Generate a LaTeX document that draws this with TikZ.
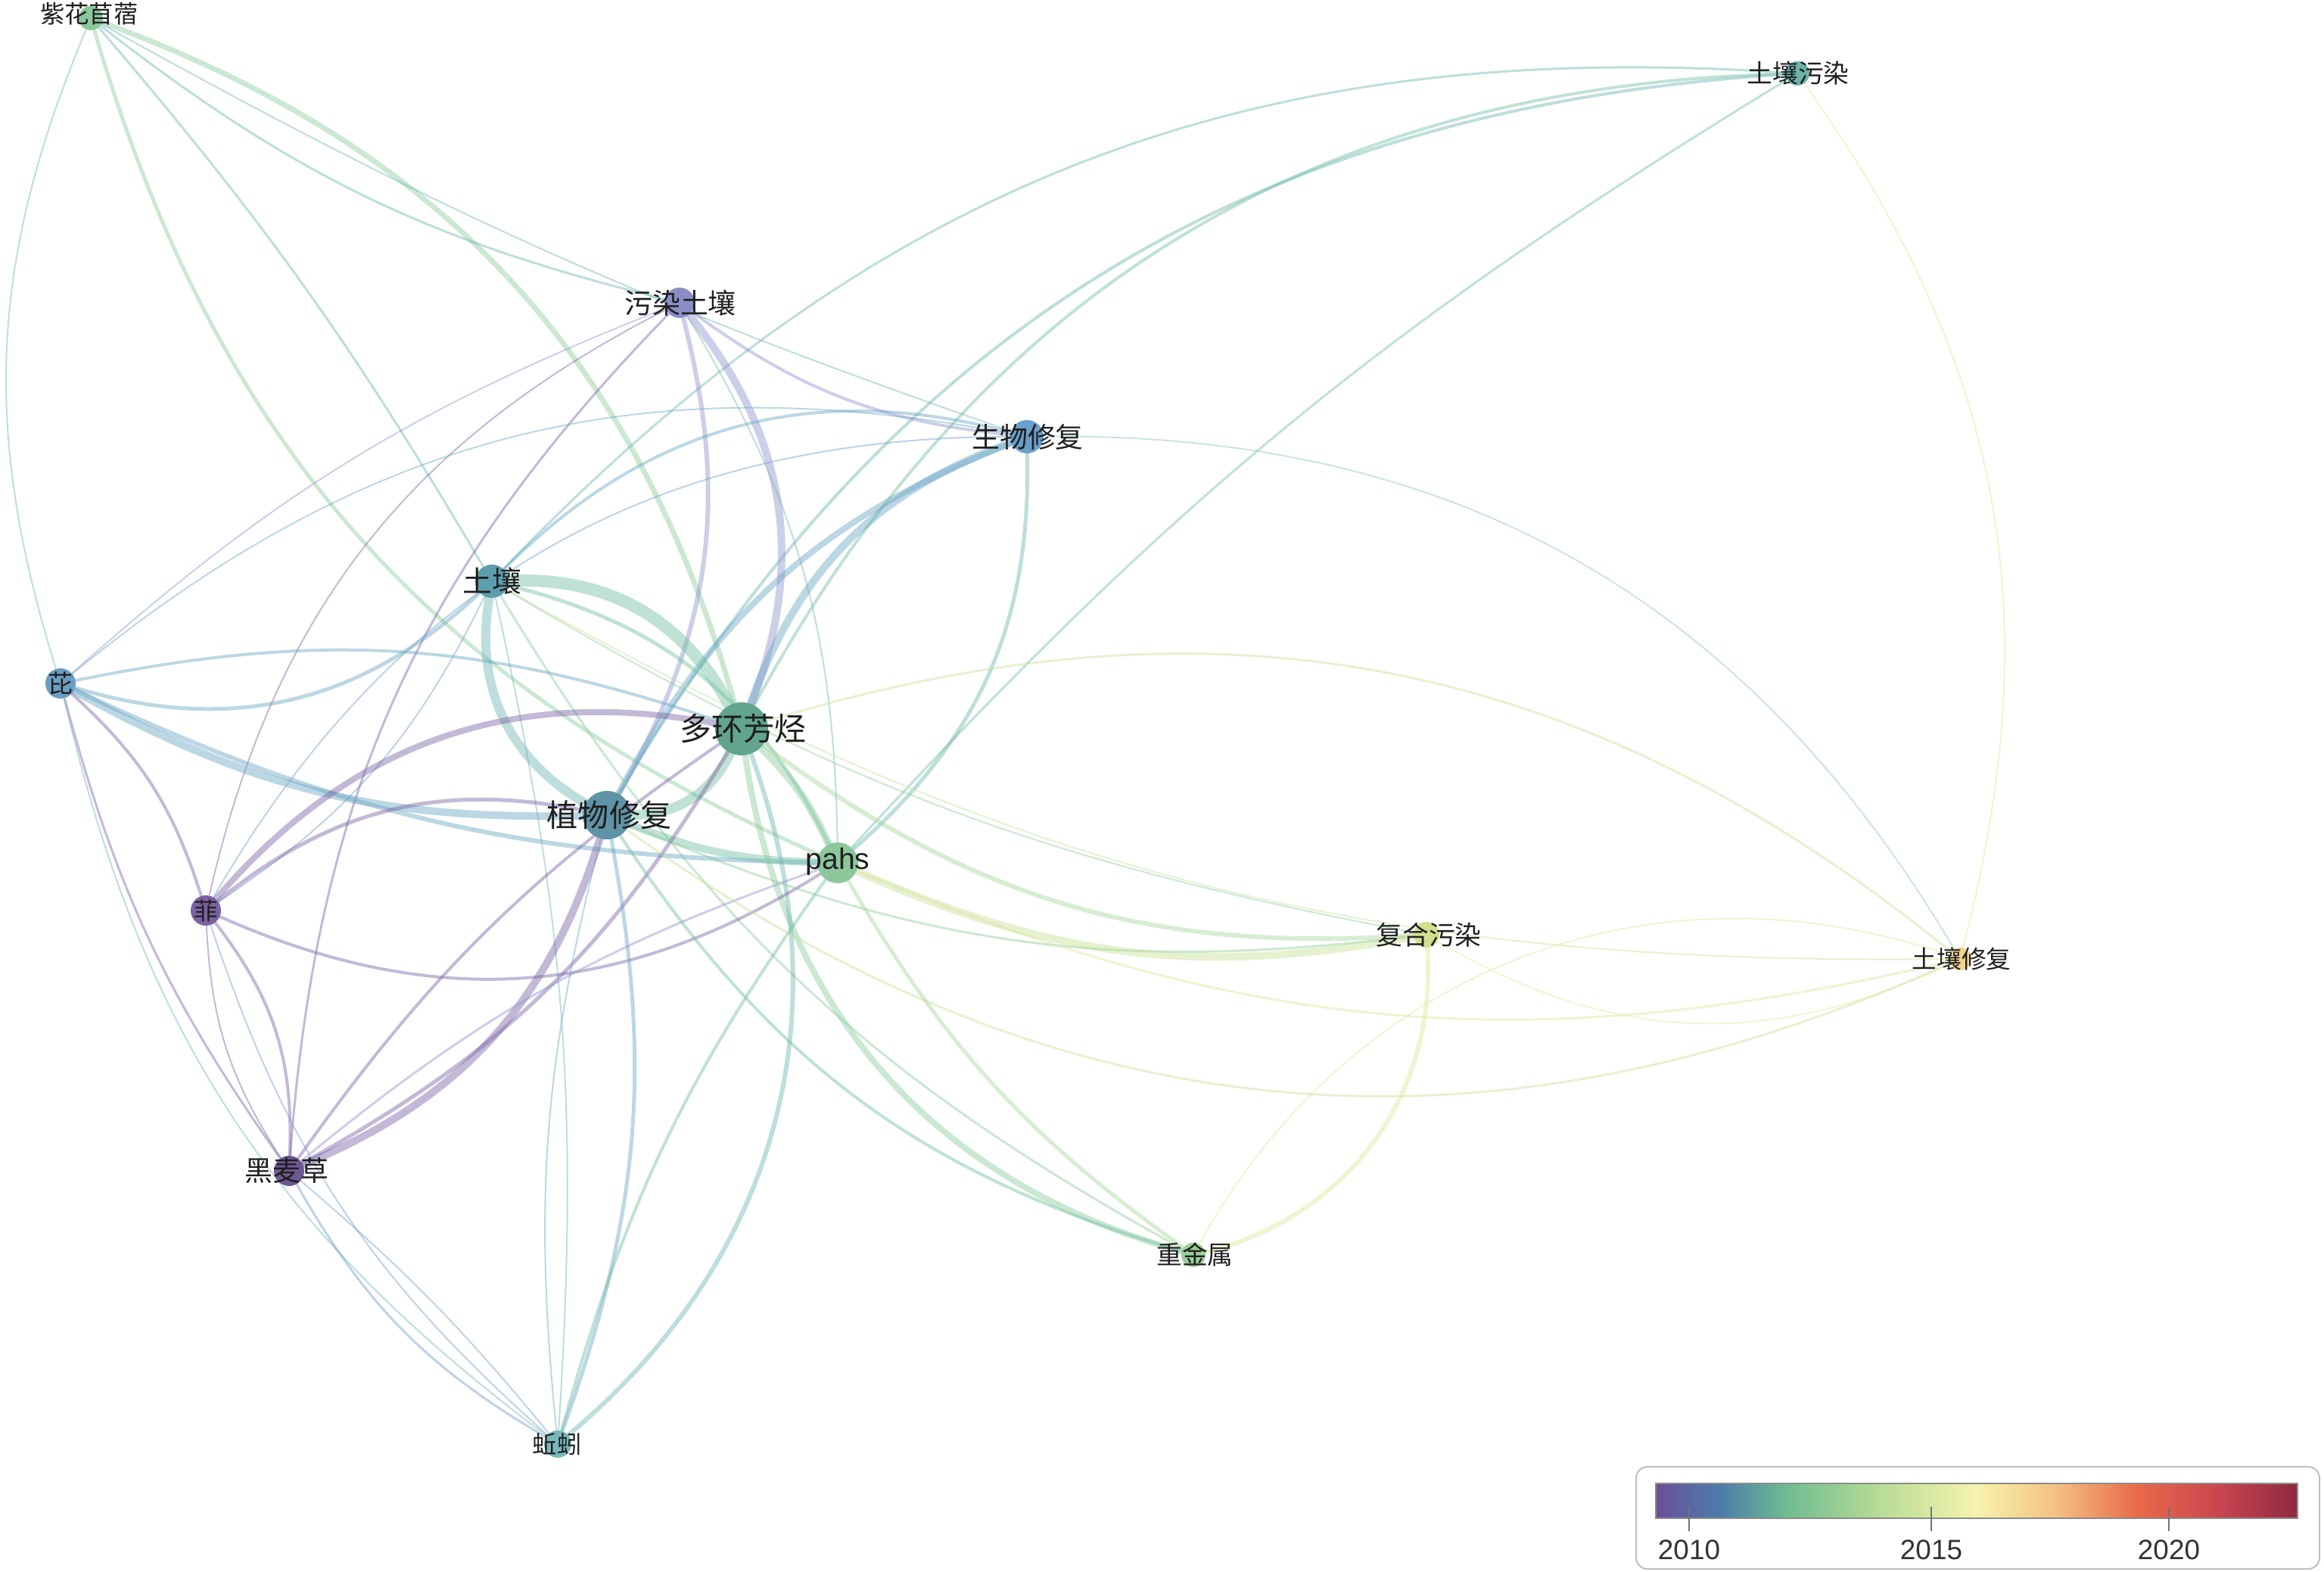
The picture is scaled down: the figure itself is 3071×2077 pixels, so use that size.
\documentclass[tikz,border=0pt]{standalone}
\usepackage{fontspec}
\newfontfamily\cjk{Noto Sans CJK SC}
\newfontfamily\lsans{Liberation Sans}
\pgfdeclarelayer{background}
\pgfsetlayers{background,main}
\definecolor{c10}{HTML}{7A64A6}
\definecolor{c105}{HTML}{8F94CC}
\definecolor{c11}{HTML}{6E9DCB}
\definecolor{c115}{HTML}{6AA6C4}
\definecolor{c12}{HTML}{6DB5B2}
\definecolor{c125}{HTML}{72BFA2}
\definecolor{c13}{HTML}{8CCB9C}
\definecolor{c135}{HTML}{A6D69A}
\definecolor{c14}{HTML}{C8E097}
\definecolor{c145}{HTML}{DDE69A}
\definecolor{c15}{HTML}{F0E3A0}
\definecolor{nA}{HTML}{8CC79C}
\definecolor{nB}{HTML}{6DB3AC}
\definecolor{nC}{HTML}{8A8EC6}
\definecolor{nD}{HTML}{6A9FCB}
\definecolor{nE}{HTML}{5E9DAB}
\definecolor{nF}{HTML}{6B9EC3}
\definecolor{nG}{HTML}{62A58E}
\definecolor{nH}{HTML}{5F93A6}
\definecolor{nI}{HTML}{8CC79C}
\definecolor{nJ}{HTML}{7A62A2}
\definecolor{nK}{HTML}{D4DF8E}
\definecolor{nL}{HTML}{EFD48F}
\definecolor{nM}{HTML}{6E5893}
\definecolor{nN}{HTML}{9CCF95}
\definecolor{nO}{HTML}{79B8BB}
\definecolor{bar1}{HTML}{6B4E98}
\definecolor{bar2}{HTML}{4C7BAA}
\definecolor{bar3}{HTML}{6DBB92}
\definecolor{bar4}{HTML}{B8DC96}
\definecolor{bar5}{HTML}{F6F3AE}
\definecolor{bar6}{HTML}{F4C383}
\definecolor{bar7}{HTML}{E96A4A}
\definecolor{bar8}{HTML}{C84450}
\definecolor{bar9}{HTML}{8E2A40}
\pgfdeclarehorizontalshading{yrbar}{100bp}{color(0bp)=(bar1); color(25bp)=(bar1); color(30bp)=(bar2); color(35bp)=(bar3); color(42.5bp)=(bar4); color(50bp)=(bar5); color(56bp)=(bar6); color(62.5bp)=(bar7); color(69bp)=(bar8); color(75bp)=(bar9); color(100bp)=(bar9)}
\newcommand\ed[5]{\draw[edge,line width=#3*0.2845pt,draw=#4] (#1) to[bend left=#5] (#2);}
\tikzset{
  edge/.style={draw opacity=0.45, line cap=round},
  kw/.style={circle, inner sep=0pt, draw=none},
  lab/.style={inner sep=0pt, text=black!88},
}
\begin{document}
\begin{tikzpicture}[x=0.01cm,y=-0.01cm]
\useasboundingbox (0,0) rectangle (3071,2077);
% nodes
\node[kw,fill=nA,minimum size=32*0.2845pt] (A) at (120,24) {};
\node[kw,fill=nB,minimum size=32*0.2845pt] (B) at (2375,97) {};
\node[kw,fill=nC,minimum size=40*0.2845pt] (C) at (898,400) {};
\node[kw,fill=nD,minimum size=44*0.2845pt] (D) at (1357,577) {};
\node[kw,fill=nE,minimum size=44*0.2845pt] (E) at (650,768) {};
\node[kw,fill=nF,minimum size=40*0.2845pt] (F) at (80,903) {};
\node[kw,fill=nG,minimum size=70*0.2845pt] (G) at (980,963) {};
\node[kw,fill=nH,minimum size=64*0.2845pt] (H) at (802,1077) {};
\node[kw,fill=nI,minimum size=54*0.2845pt] (I) at (1107,1140) {};
\node[kw,fill=nJ,minimum size=40*0.2845pt] (J) at (272,1203) {};
\node[kw,fill=nK,minimum size=34*0.2845pt] (K) at (1885,1235) {};
\node[kw,fill=nL,minimum size=30*0.2845pt] (L) at (2590,1267) {};
\node[kw,fill=nM,minimum size=40*0.2845pt] (M) at (382,1547) {};
\node[kw,fill=nN,minimum size=32*0.2845pt] (N) at (1577,1658) {};
\node[kw,fill=nO,minimum size=36*0.2845pt] (O) at (737,1908) {};
% labels
\node[lab,font=\cjk\fontsize{9.2}{10}\selectfont] (Al) at (118,18) {紫花苜蓿};
\node[lab,font=\cjk\fontsize{9.6}{10}\selectfont] (Bl) at (2376,97) {土壤污染};
\node[lab,font=\cjk\fontsize{10.5}{11}\selectfont] (Cl) at (899,400) {污染土壤};
\node[lab,font=\cjk\fontsize{10.5}{11}\selectfont] (Dl) at (1358,577) {生物修复};
\node[lab,font=\cjk\fontsize{11}{12}\selectfont] (El) at (650,768) {土壤};
\node[lab,font=\cjk\fontsize{9.4}{10}\selectfont] (Fl) at (80,903) {芘};
\node[lab,font=\cjk\fontsize{11.9}{13}\selectfont] (Gl) at (982,963) {多环芳烃};
\node[lab,font=\cjk\fontsize{11.7}{13}\selectfont] (Hl) at (805,1077) {植物修复};
\node[lab,font=\lsans\fontsize{11.1}{12}\selectfont] (Il) at (1107,1138) {pahs};
\node[lab,font=\cjk\fontsize{9}{10}\selectfont] (Jl) at (272,1203) {菲};
\node[lab,font=\cjk\fontsize{9.9}{10}\selectfont] (Kl) at (1888,1235) {复合污染};
\node[lab,font=\cjk\fontsize{9.3}{10}\selectfont] (Ll) at (2592,1267) {土壤修复};
\node[lab,font=\cjk\fontsize{10.5}{11}\selectfont] (Ml) at (379,1547) {黑麦草};
\node[lab,font=\cjk\fontsize{9.6}{10}\selectfont] (Nl) at (1579,1658) {重金属};
\node[lab,font=\cjk\fontsize{9.2}{10}\selectfont] (Ol) at (736,1908) {蚯蚓};
% edges
\begin{pgfonlayer}{background}
\ed{A}{G}{7}{c13}{27}
\ed{A}{I}{5}{c13}{-25}
\ed{A}{C}{3}{c12}{-12}
\ed{A}{D}{2}{c12}{-5}
\ed{A}{E}{3}{c12}{5}
\ed{A}{F}{2}{c12}{-20}
\ed{B}{L}{2}{c145}{25}
\ed{B}{G}{4}{c125}{-30}
\ed{B}{H}{4}{c12}{-28}
\ed{B}{E}{3}{c12}{-25}
\ed{B}{I}{3}{c125}{-8}
\ed{C}{G}{10}{c105}{30}
\ed{C}{H}{6}{c105}{22}
\ed{C}{D}{4}{c105}{-15}
\ed{C}{F}{2}{c105}{-10}
\ed{C}{J}{2}{c10}{-25}
\ed{C}{M}{3}{c10}{-20}
\ed{C}{I}{2}{c12}{15}
\ed{D}{G}{10}{c115}{-25}
\ed{D}{H}{8}{c115}{-20}
\ed{D}{E}{4}{c115}{-30}
\ed{D}{F}{2}{c115}{-25}
\ed{D}{J}{2}{c11}{-30}
\ed{D}{I}{5}{c12}{25}
\ed{D}{L}{2}{c13}{30}
\ed{E}{G}{16}{c125}{32}
\ed{E}{I}{5}{c125}{25}
\ed{E}{H}{12}{c12}{-35}
\ed{E}{F}{5}{c115}{30}
\ed{E}{J}{2}{c11}{15}
\ed{E}{N}{3}{c13}{-15}
\ed{E}{O}{2}{c12}{8}
\ed{E}{L}{2}{c14}{-15}
\ed{E}{K}{2}{c13}{-10}
\ed{F}{H}{10}{c115}{-15}
\ed{F}{I}{6}{c115}{-12}
\ed{F}{G}{4}{c115}{15}
\ed{F}{J}{4}{c10}{15}
\ed{F}{M}{3}{c10}{-10}
\ed{F}{O}{2}{c12}{-20}
\ed{G}{H}{13}{c125}{32}
\ed{G}{I}{10}{c13}{10}
\ed{H}{I}{10}{c125}{-10}
\ed{G}{K}{6}{c135}{-20}
\ed{G}{L}{3}{c14}{28}
\ed{G}{N}{8}{c13}{-33}
\ed{G}{O}{6}{c12}{35}
\ed{G}{M}{4}{c10}{-10}
\ed{J}{G}{8}{c10}{30}
\ed{J}{H}{5}{c10}{25}
\ed{J}{I}{4}{c10}{-28}
\ed{J}{M}{4}{c10}{20}
\ed{J}{M}{2}{c10}{-15}
\ed{J}{O}{2}{c11}{-15}
\ed{M}{H}{10}{c10}{-25}
\ed{M}{G}{5}{c10}{-15}
\ed{M}{I}{3}{c105}{10}
\ed{M}{O}{3}{c11}{-15}
\ed{M}{O}{2}{c11}{5}
\ed{H}{K}{3}{c13}{-15}
\ed{H}{N}{4}{c125}{-20}
\ed{H}{L}{3}{c14}{-30}
\ed{H}{O}{5}{c115}{15}
\ed{H}{O}{2}{c115}{-10}
\ed{I}{K}{10}{c14}{-17}
\ed{I}{N}{5}{c135}{-12}
\ed{I}{L}{3}{c145}{-18}
\ed{I}{O}{4}{c125}{-10}
\ed{K}{N}{6}{c145}{40}
\ed{L}{N}{2}{c145}{-40}
\ed{K}{L}{2}{c15}{-28}
\end{pgfonlayer}
% legend
\draw[black!25, line width=2*0.2845pt, rounded corners=0.15cm] (2162,1938) rectangle (3065,2073);
\shade[shading=yrbar, draw=black!45, line width=1.5*0.2845pt] (2188,1960) rectangle (3036,2006);
\coordinate (t1) at (2232,1991);
\coordinate (t2) at (2552,1991);
\coordinate (t3) at (2866,1991);
\foreach \t in {t1,t2,t3}{\draw[black!55, line width=2.5*0.2845pt] (\t) -- ++(0,32);}
\node[font=\lsans\fontsize{10.5}{12}\selectfont, text=black!80] (y1) at (2232,2048) {2010};
\node[font=\lsans\fontsize{10.5}{12}\selectfont, text=black!80] (y2) at (2552,2048) {2015};
\node[font=\lsans\fontsize{10.5}{12}\selectfont, text=black!80] (y3) at (2866,2048) {2020};
\end{tikzpicture}
\end{document}
